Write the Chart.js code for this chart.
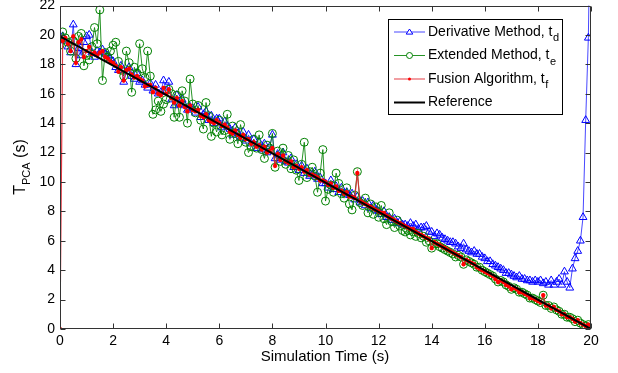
<!DOCTYPE html>
<html>
<head>
<meta charset="utf-8">
<script src="https://cdn.jsdelivr.net/npm/chart.js@4.4.0/dist/chart.umd.min.js"></script>
<style>
  html,body{margin:0;padding:0;background:#fff;}
  #wrap{width:618px;height:373px;position:relative;}
</style>
</head>
<body>
<div id="wrap"><canvas id="c" width="618" height="373"></canvas></div>
<script>
// ---- Data ----
const timeS = [
 0.0,0.1,0.2,0.3,0.4,0.5,0.6,0.7,0.8,0.9,
 1.0,1.1,1.2,1.3,1.4,1.5,1.6,1.7,1.8,1.9,
 2.0,2.1,2.2,2.3,2.4,2.5,2.6,2.7,2.8,2.9,
 3.0,3.1,3.2,3.3,3.4,3.5,3.6,3.7,3.8,3.9,
 4.0,4.1,4.2,4.3,4.4,4.5,4.6,4.7,4.8,4.9,
 5.0,5.1,5.2,5.3,5.4,5.5,5.6,5.7,5.8,5.9,
 6.0,6.1,6.2,6.3,6.4,6.5,6.6,6.7,6.8,6.9,
 7.0,7.1,7.2,7.3,7.4,7.5,7.6,7.7,7.8,7.9,
 8.0,8.1,8.2,8.3,8.4,8.5,8.6,8.7,8.8,8.9,
 9.0,9.1,9.2,9.3,9.4,9.5,9.6,9.7,9.8,9.9,
 10.0,10.1,10.2,10.3,10.4,10.5,10.6,10.7,10.8,10.9,
 11.0,11.1,11.2,11.3,11.4,11.5,11.6,11.7,11.8,11.9,
 12.0,12.1,12.2,12.3,12.4,12.5,12.6,12.7,12.8,12.9,
 13.0,13.1,13.2,13.3,13.4,13.5,13.6,13.7,13.8,13.9,
 14.0,14.1,14.2,14.3,14.4,14.5,14.6,14.7,14.8,14.9,
 15.0,15.1,15.2,15.3,15.4,15.5,15.6,15.7,15.8,15.9,
 16.0,16.1,16.2,16.3,16.4,16.5,16.6,16.7,16.8,16.9,
 17.0,17.1,17.2,17.3,17.4,17.5,17.6,17.7,17.8,17.9,
 18.0,18.1,18.2,18.3,18.4,18.5,18.6,18.7,18.8,18.9,
 19.0,19.1,19.2,19.3,19.4,19.5,19.6,19.7,19.8,19.9,
 20.0
];

const derivativeTd = [
 19.7,19.9,19.6,19.2,18.8,20.7,18.0,19.1,18.6,19.5,
 19.9,20.0,18.8,18.5,18.9,18.8,19.0,18.7,18.6,18.4,
 18.2,17.8,17.6,17.9,16.8,17.5,17.8,17.2,17.0,17.4,
 16.8,16.9,16.6,16.4,16.7,16.2,16.6,16.0,16.1,16.9,
 16.2,16.8,15.6,15.2,15.9,15.3,15.6,15.2,14.9,15.1,
 15.0,14.7,15.1,14.4,14.6,14.8,14.2,14.5,14.0,14.3,
 14.3,13.7,14.1,13.8,13.6,13.2,13.7,13.3,13.0,13.4,
 12.8,13.2,12.6,12.9,12.3,12.7,12.2,12.6,12.0,12.4,
 13.2,11.6,11.9,11.5,12.0,11.4,11.3,11.6,11.0,11.2,
 10.8,11.1,10.6,10.9,10.4,10.5,10.7,10.2,10.3,9.9,
 9.9,9.6,10.1,9.5,9.7,9.3,9.6,9.2,9.3,9.1,
 9.2,8.8,9.0,8.6,8.7,8.4,8.6,8.2,8.4,8.1,
 8.0,7.8,8.0,7.6,7.6,7.4,7.5,7.2,7.3,7.1,
 7.1,7.0,7.2,7.0,7.1,6.8,6.9,6.9,7.0,6.6,
 6.6,6.3,6.5,6.4,6.2,6.1,6.0,5.9,5.9,5.8,
 5.6,5.5,5.8,5.4,5.3,5.2,5.3,5.1,5.1,4.9,
 4.8,4.6,4.6,4.4,4.3,4.2,4.1,4.0,3.8,3.8,
 3.7,3.6,3.5,3.6,3.4,3.4,3.3,3.3,3.2,3.3,
 3.2,3.3,3.1,3.2,3.0,3.3,3.0,3.2,3.4,3.0,
 3.9,3.2,2.8,4.1,4.8,5.3,6.0,7.6,14.2,19.8,
 32.0
];

const extendedTe = [
 19.3,20.2,19.8,19.5,18.9,19.6,18.4,19.9,20.1,17.9,
 18.6,18.3,19.2,20.5,19.4,21.7,16.9,18.8,18.5,18.9,
 19.3,19.5,18.2,17.6,17.2,18.9,18.1,16.1,17.8,17.4,
 19.4,17.7,17.1,18.9,17.2,14.6,14.9,15.5,14.8,15.3,
 15.6,16.3,16.0,14.4,15.9,14.4,16.2,15.5,14.0,17.0,
 15.3,14.7,15.2,14.2,13.6,15.4,14.5,13.1,14.0,13.4,
 14.2,13.2,13.5,14.6,12.9,13.8,13.3,12.6,13.9,13.0,
 12.7,12.0,12.4,12.9,12.3,13.2,12.2,11.6,12.5,12.3,
 13.3,11.0,12.1,11.4,12.3,11.2,11.8,10.9,11.5,10.8,
 10.1,11.2,12.7,10.3,10.7,11.0,10.4,9.3,10.6,12.2,
 8.7,9.5,9.8,9.3,10.6,9.9,9.2,8.9,9.6,8.5,
 8.1,9.1,10.7,8.6,8.4,8.9,7.9,8.5,7.8,8.3,
 7.6,8.4,7.5,7.1,7.9,7.3,6.9,7.4,7.0,6.7,
 6.6,6.7,6.4,6.6,6.3,6.5,6.2,6.3,5.9,6.0,
 5.5,5.8,5.8,5.6,5.5,5.4,5.3,5.2,5.1,4.9,
 5.0,4.9,4.4,4.7,4.6,4.5,4.4,4.2,4.2,4.0,
 3.9,3.8,3.7,3.6,3.4,3.2,3.3,3.2,3.0,2.9,
 2.7,2.8,2.7,2.5,2.5,2.4,2.3,2.1,2.1,2.0,
 1.9,1.8,2.3,1.6,1.6,1.4,1.5,1.3,1.2,1.0,
 1.0,0.8,0.8,0.7,0.5,0.6,0.4,0.3,0.2,0.3,
 0.1
];

const fusionTf = [
 0.0,19.6,19.8,19.4,18.9,19.9,18.1,19.5,19.7,18.5,
 18.9,19.2,18.7,18.8,18.6,18.8,18.9,18.5,18.4,18.2,
 18.1,17.9,17.5,17.8,16.9,17.6,17.7,17.3,17.1,17.2,
 17.0,16.9,16.5,16.6,16.6,16.1,16.4,16.0,15.9,16.4,
 16.0,16.3,15.7,15.4,15.7,15.2,15.5,15.1,14.8,15.2,
 14.9,14.8,14.9,14.5,14.4,14.6,14.2,14.1,14.0,14.2,
 14.0,13.8,13.9,13.7,13.4,13.3,13.5,13.2,13.0,13.2,
 12.9,12.9,12.6,12.7,12.4,12.5,12.2,12.4,12.0,12.1,
 12.3,11.1,11.9,11.5,11.8,11.4,11.3,11.4,11.0,11.1,
 10.9,11.0,10.7,10.8,10.5,10.5,10.4,10.3,10.1,10.1,
 10.0,9.8,9.9,9.6,9.7,9.4,9.4,9.2,9.3,9.0,
 9.0,8.9,10.6,8.7,8.6,8.5,8.4,8.3,8.2,8.1,
 8.0,7.9,7.9,7.7,7.6,7.5,7.4,7.3,7.2,7.1,
 7.0,6.9,6.8,6.8,6.6,6.5,6.4,6.3,6.2,6.1,
 5.5,5.9,5.8,5.7,5.6,5.5,5.4,5.3,5.2,5.1,
 5.0,4.9,4.4,4.7,4.6,4.5,4.4,4.2,4.1,4.0,
 3.9,3.8,3.7,3.6,3.4,3.2,3.3,3.2,3.0,2.9,
 2.7,2.8,2.7,2.5,2.5,2.4,2.3,2.1,2.1,2.0,
 1.9,1.8,2.3,1.6,1.6,1.4,1.5,1.3,1.2,1.0,
 1.0,0.8,0.8,0.7,0.5,0.6,0.4,0.3,0.2,0.3,
 0.1
];

const referenceT = [0, 20];
const referenceV = [19.9, 0];

const xTicks = [0,2,4,6,8,10,12,14,16,18,20];
const yTicks = [0,2,4,6,8,10,12,14,16,18,20,22];

const seriesNames = ['Derivative Method, t', 'Extended Method, t', 'Fusion Algorithm, t', 'Reference'];
const seriesSubs = ['d', 'e', 'f', ''];
const xTitle = 'Simulation Time (s)';
const yTitleMain = 'T';
const yTitleSub = 'PCA';
const yTitleTail = ' (s)';

// ---- Build chart ----
const FONT = '"Liberation Sans", Arial, sans-serif';
function pts(ts, vs){ return ts.map((t,i)=>({x:t, y:vs[i]})); }

const datasets = [
  {label: seriesNames[0], data: pts(timeS, derivativeTd), borderColor: 'rgba(40,40,255,0.85)', borderWidth: 1,
   pointStyle: 'triangle', pointRadius: 4.5, pointBorderColor: '#0000ff', pointBackgroundColor: 'rgba(0,0,0,0)', pointBorderWidth: 1, order: 4},
  {label: seriesNames[1], data: pts(timeS, extendedTe), borderColor: 'rgba(0,128,0,0.85)', borderWidth: 1,
   pointStyle: 'circle', pointRadius: 4, pointBorderColor: '#008000', pointBackgroundColor: 'rgba(0,0,0,0)', pointBorderWidth: 1, order: 3},
  {label: seriesNames[2], data: pts(timeS, fusionTf), borderColor: 'rgba(225,40,50,0.9)', borderWidth: 1.2,
   pointStyle: 'star', pointRadius: 2.2, pointBorderColor: '#ff0000', pointBackgroundColor: '#ff0000', pointBorderWidth: 1.3, order: 2},
  {label: seriesNames[3], data: pts(referenceT, referenceV), borderColor: '#000000', borderWidth: 2,
   pointRadius: 0, order: 1}
];

const framePlugin = {
  id: 'frame',
  afterDatasetsDraw(chart){
    const {ctx, chartArea: a, scales} = chart;
    ctx.save();
    ctx.strokeStyle = '#333';
    ctx.lineWidth = 1;
    ctx.beginPath();
    const L = Math.round(a.left)+0.5, R = Math.round(a.right)-0.5, T = Math.round(a.top)+0.5, B = Math.round(a.bottom)-0.5;
    ctx.rect(L, T, R-L, B-T);
    const tl = 5;
    xTicks.forEach(v=>{
      const px = Math.round(scales.x.getPixelForValue(v))+0.5;
      ctx.moveTo(px, B); ctx.lineTo(px, B-tl);
      ctx.moveTo(px, T); ctx.lineTo(px, T+tl);
    });
    yTicks.forEach(v=>{
      const py = Math.round(scales.y.getPixelForValue(v))+0.5;
      ctx.moveTo(L, py); ctx.lineTo(L+tl, py);
      ctx.moveTo(R, py); ctx.lineTo(R-tl, py);
    });
    ctx.stroke();
    ctx.restore();
  },
  afterDraw(chart){
    const ctx = chart.ctx;
    ctx.save();
    ctx.fillStyle = '#000';
    ctx.textBaseline = 'alphabetic';
    ctx.textAlign = 'left';
    const fMain = '16px ' + FONT, fSub = '11px ' + FONT;
    ctx.font = fMain; const w1 = ctx.measureText(yTitleMain).width; const w3 = ctx.measureText(yTitleTail).width;
    ctx.font = fSub; const w2 = ctx.measureText(yTitleSub).width;
    const total = w1 + w2 + w3;
    ctx.translate(25, 167);
    ctx.rotate(-Math.PI/2);
    let x0 = -total/2;
    ctx.font = fMain; ctx.fillText(yTitleMain, x0, 0); x0 += w1;
    ctx.font = fSub; ctx.fillText(yTitleSub, x0, 5); x0 += w2;
    ctx.font = fMain; ctx.fillText(yTitleTail, x0, 0);
    ctx.restore();

    ctx.save();
    ctx.fillStyle = '#000';
    ctx.font = '15px ' + FONT;
    ctx.textAlign = 'center';
    ctx.textBaseline = 'middle';
    ctx.fillText(xTitle, 325, 357);
    ctx.restore();

    // Legend box
    ctx.save();
    const bx = 388.5, by = 19.5, bw = 174, bh = 95;
    ctx.fillStyle = '#fff';
    ctx.fillRect(bx, by, bw, bh);
    ctx.strokeStyle = '#000';
    ctx.lineWidth = 1;
    ctx.strokeRect(bx, by, bw, bh);
    const rows = [32, 55.5, 79, 102.5];
    chart.data.datasets.forEach((ds, i)=>{
      const y = rows[i];
      ctx.strokeStyle = ds.borderColor;
      ctx.lineWidth = ds.borderWidth === 2 ? 2 : 1;
      ctx.beginPath(); ctx.moveTo(394, y); ctx.lineTo(425, y); ctx.stroke();
      if (ds.pointRadius > 0) {
        ctx.strokeStyle = ds.pointBorderColor;
        ctx.lineWidth = 1;
        ctx.beginPath();
        if (ds.pointStyle === 'triangle') {
          const r = 3;
          ctx.moveTo(409.5, y - r); ctx.lineTo(409.5 + r*1.1, y + r*0.7); ctx.lineTo(409.5 - r*1.1, y + r*0.7); ctx.closePath();
          ctx.fillStyle = '#fff'; ctx.fill(); ctx.stroke();
        } else if (ds.pointStyle === 'circle') {
          ctx.arc(409.5, y, 3, 0, Math.PI*2);
          ctx.fillStyle = '#fff'; ctx.fill(); ctx.stroke();
        } else {
          ctx.fillStyle = '#ff0000'; ctx.arc(409.5, y, 1.5, 0, Math.PI*2); ctx.fill();
        }
      }
      ctx.fillStyle = '#000';
      ctx.textBaseline = 'middle';
      ctx.textAlign = 'left';
      ctx.font = '14px ' + FONT;
      ctx.fillText(ds.label, 428, y);
      const tw = ctx.measureText(ds.label).width;
      if (seriesSubs[i]) {
        ctx.font = '11px ' + FONT;
        ctx.fillText(seriesSubs[i], 428 + tw + 0.5, y + 6);
      }
    });
    ctx.restore();
  }
};

new Chart(document.getElementById('c'), {
  type: 'line',
  data: { datasets },
  options: {
    responsive: false,
    animation: false,
    layout: { padding: { left: 0, right: 27, top: 5, bottom: 0 } },
    plugins: { legend: { display: false }, tooltip: { enabled: false } },
    elements: { line: { tension: 0 } },
    scales: {
      x: {
        type: 'linear', min: 0, max: 20,
        afterBuildTicks: s => { s.ticks = xTicks.map(v=>({value:v})); },
        afterFit: s => { s.height = 44; s.paddingLeft = 0; s.paddingRight = 0; },
        grid: { display: false, drawTicks: false },
        border: { display: false },
        ticks: { color: '#000', font: { family: FONT, size: 14 }, padding: 4, maxRotation: 0, autoSkip: false }
      },
      y: {
        type: 'linear', min: 0, max: 22,
        afterBuildTicks: s => { s.ticks = yTicks.map(v=>({value:v})); },
        afterFit: s => { s.width = 60; s.paddingTop = 0; s.paddingBottom = 0; },
        grid: { display: false, drawTicks: false },
        border: { display: false },
        ticks: { color: '#000', font: { family: FONT, size: 14 }, padding: 5, autoSkip: false }
      }
    }
  },
  plugins: [framePlugin]
});
</script>
</body>
</html>
